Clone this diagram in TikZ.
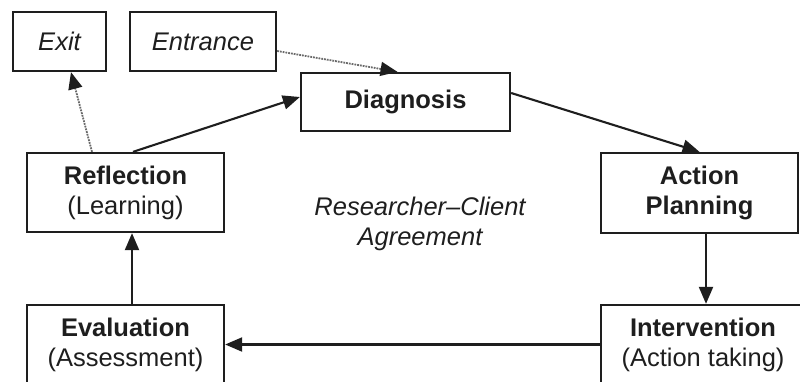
\documentclass[tikz,border=0pt]{standalone}
\usepackage{fontspec}
\setmainfont{Liberation Sans}
\usetikzlibrary{arrows.meta,calc}
\definecolor{ink}{HTML}{1E1E1E}
\definecolor{dotink}{HTML}{6A6A6A}
\begin{document}
\begin{tikzpicture}[x=1pt,y=-1pt,
  box/.style={draw=ink,line width=2.3pt,text=ink,inner sep=0pt,align=center,
    font=\fontsize{25.5}{30}\selectfont},
  conn/.style={draw=ink,line width=2.1pt,-{Triangle[length=17pt,width=14pt]}},
  dotconn/.style={draw=dotink,line width=1.8pt,densely dotted,
    -{Triangle[length=17pt,width=14pt,fill=ink,color=ink]}}]
\useasboundingbox (0,0) rectangle (800,381);
\begin{scope}
\clip (0,0) rectangle (800,381);
\node[box,minimum width=93pt,minimum height=59pt] (exit) at (59.5,41.5) {\itshape Exit};
\node[box,minimum width=146pt,minimum height=59pt] (entr) at (203,41.5) {\itshape Entrance};
\node[box,minimum width=209pt,minimum height=58pt] (diag) at (405.5,102) {\bfseries Diagnosis};
\node[box,minimum width=197pt,minimum height=79pt] (refl) at (125.5,192.5) {\bfseries Reflection\\(Learning)};
\node[box,minimum width=197pt,minimum height=80pt] (ap) at (699.5,193) {\bfseries Action\\\bfseries Planning};
\node[box,minimum width=197pt,minimum height=79pt] (eval) at (125.5,344.5) {\bfseries Evaluation\\(Assessment)};
\node[box,minimum width=204pt,minimum height=79pt] (int) at (703,344.5) {\bfseries Intervention\\(Action taking)};
\node[text=ink,align=center,inner sep=0pt,font=\fontsize{25.5}{30}\selectfont\itshape] (agr) at (420,224) {Researcher--Client\\Agreement};
\draw[conn] ([xshift=7.5pt]refl.north) -- ([yshift=5pt]diag.west);
\draw[conn] ([yshift=9pt]diag.east) -- (ap.north);
\draw[conn] ([xshift=6.5pt]ap.south) -- ([xshift=6.5pt]ap.south |- int.north);
\draw[conn] (int.west) -- (eval.east);
\draw[conn] ([xshift=6.5pt]eval.north) -- ([xshift=6.5pt]eval.north |- refl.south);
\draw[dotconn] ([yshift=-9.5pt]entr.east) -- ([xshift=-8pt]diag.north);
\draw[dotconn] ([xshift=-33.5pt]refl.north) -- ([xshift=11.5pt]exit.south);
\end{scope}
\end{tikzpicture}
\end{document}
